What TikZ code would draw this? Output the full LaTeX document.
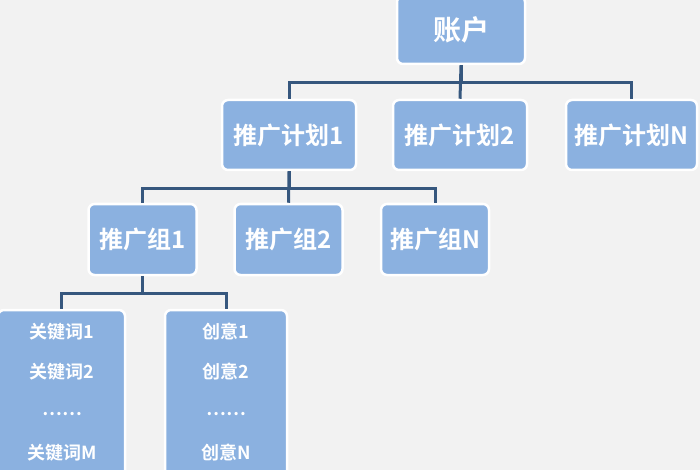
\documentclass[tikz,border=0pt]{standalone}
\usepackage{fontspec}
\newfontfamily\cjk{Noto Sans CJK SC}[BoldFont={Noto Sans CJK SC Bold}]
\usepackage{tikz}
\usetikzlibrary{positioning,calc}
\definecolor{bg}{HTML}{F2F2F2}
\definecolor{boxblue}{HTML}{8BB1E0}
\definecolor{wire}{HTML}{36577E}
\tikzset{
  box/.style={draw=white,line width=2.5pt,fill=boxblue,rounded corners=6pt,text=white,font=\cjk\bfseries\fontsize{24}{28}\selectfont,inner sep=0pt},
  topbox/.style={box,minimum width=128pt,minimum height=68pt,font=\cjk\bfseries\fontsize{28}{32}\selectfont},
  planbox/.style={box,minimum width=134pt,minimum height=70pt},
  grpbox/.style={box,minimum width=108pt,minimum height=71pt},
  leafbox/.style={box,minimum height=170pt},
  item/.style={text=white,font=\cjk\bfseries\fontsize{18}{20}\selectfont,inner sep=0pt},
  link/.style={draw=wire,line width=3pt},
}
\begin{document}
\begin{tikzpicture}[x=1pt,y=-1pt]
\useasboundingbox (0,0) rectangle (700,470);
\clip (0,0) rectangle (700,470);
\fill[bg] (0,0) rectangle (700,470);
% levels
\node[topbox] (acct) at (461,30) {账户};
\node[planbox] (plan1) at (289,135) {推广计划1};
\node[planbox] (plan2) at (460,135) {推广计划2};
\node[planbox,minimum width=131pt] (planN) at (631.5,135) {推广计划N};
\node[grpbox] (grp1) at (142.5,239.5) {推广组1};
\node[grpbox] (grp2) at (288.5,239.5) {推广组2};
\node[grpbox] (grpN) at (435,239.5) {推广组N};
\node[leafbox,minimum width=127pt] (kw) at (61.5,395) {};
\node[leafbox,minimum width=122pt] (idea) at (226,395) {};
% leaf texts
\node[item] (kw1) at (62,332) {关键词1};
\node[item] (kw2) at (62,372) {关键词2};
\node[item] (kwd) at (62,414) {……};
\node[item] (kwM) at (62,453) {关键词M};
\node[item] (id1) at (226,332) {创意1};
\node[item] (id2) at (226,372) {创意2};
\node[item] (idd) at (226,414) {……};
\node[item] (idN) at (226,453) {创意N};
% connectors
\draw[link] (acct.south) -- ++(0,17) -| (plan1.north);
\draw[link] (acct.south) -- (plan2.north);
\draw[link] (acct.south) -- ++(0,17) -| (planN.north);
\draw[link] (plan1.south) -- ++(0,17) -| (grp1.north);
\draw[link] (plan1.south) -- (grp2.north);
\draw[link] (plan1.south) -- ++(0,17) -| (grpN.north);
\draw[link] (grp1.south) -- ++(0,17) -| (kw.north);
\draw[link] (grp1.south) -- ++(0,17) -| (idea.north);
\end{tikzpicture}
\end{document}
